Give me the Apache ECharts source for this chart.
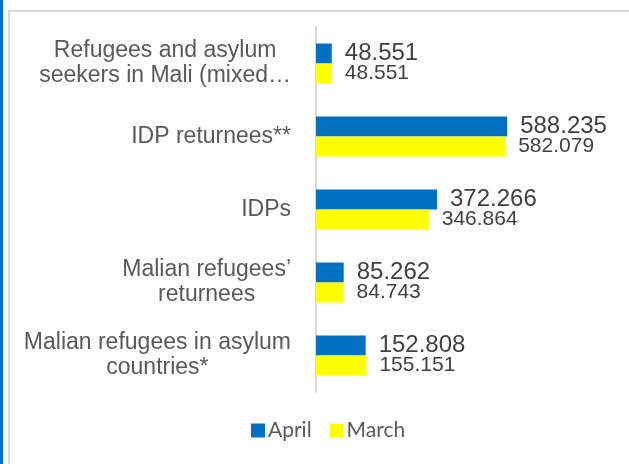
<!DOCTYPE html>
<html>
<head>
<meta charset="utf-8">
<script src="https://cdn.jsdelivr.net/npm/echarts@6/dist/echarts.min.js"></script>
<style>
html,body{margin:0;padding:0;background:#fff;}
#c{width:629px;height:464px;}
</style>
</head>
<body>
<div id="c"></div>
<script>
const categories = [
  "Refugees and asylum\nseekers in Mali (mixed…",
  "IDP returnees**",
  "IDPs",
  "Malian refugees’\nreturnees",
  "Malian refugees in asylum\ncountries*"
];
const aprilValues = [48.551, 588.235, 372.266, 85.262, 152.808];
const marchValues = [48.551, 582.079, 346.864, 84.743, 155.151];
const seriesNames = ["April", "March"];

const chart = echarts.init(document.getElementById('c'), null, {renderer: 'canvas'});
const fmt = p => p.value.toFixed(3);
chart.setOption({
  animation: false,
  backgroundColor: '#fff',
  graphic: [
    {type: 'rect', shape: {x: 0, y: 0, width: 3, height: 464}, style: {fill: '#0070C0'}},
    {type: 'rect', shape: {x: 9, y: 11, width: 640, height: 470}, style: {fill: 'none', stroke: '#d9d9d9', lineWidth: 2}}
  ],
  grid: {left: 316, top: 27, width: 227.5, bottom: 72},
  xAxis: {type: 'value', min: 0, max: 700, show: false},
  yAxis: {
    type: 'category', inverse: true, data: categories,
    axisLine: {lineStyle: {color: '#d9d9d9', width: 2}},
    axisTick: {show: false},
    axisLabel: {
      margin: 25, align: 'right',
      fontFamily: 'Liberation Sans, Arial, sans-serif', fontSize: 23, color: '#595959',
      formatter: v => v.split('\n').map(l => '{c|' + l + '}').join('\n'),
      rich: {c: {align: 'center', fontFamily: 'Liberation Sans, Arial, sans-serif', fontSize: 23, color: '#595959', lineHeight: 25}}
    }
  },
  legend: {
    bottom: 18, left: 246, icon: 'rect', itemWidth: 14, itemHeight: 14, itemGap: 18,
    textStyle: {fontFamily: 'Lato, Open Sans, sans-serif', fontSize: 21, color: '#595959', padding: [0, 0, 0, -2]},
    data: seriesNames
  },
  series: [
    {name: seriesNames[0], type: 'bar', data: aprilValues, barWidth: 20, barGap: '0%',
     itemStyle: {color: '#0070C0'},
     label: {show: true, position: 'right', distance: 13, formatter: fmt,
       fontFamily: 'Liberation Sans, Arial, sans-serif', fontSize: 24, color: '#404040'}},
    {name: seriesNames[1], type: 'bar', data: marchValues, barWidth: 20, barGap: '0%',
     itemStyle: {color: '#FFFF00'},
     label: {show: true, position: 'right', distance: 13, formatter: fmt,
       fontFamily: 'Liberation Sans, Arial, sans-serif', fontSize: 21, color: '#404040'}}
  ]
});
</script>
</body>
</html>
